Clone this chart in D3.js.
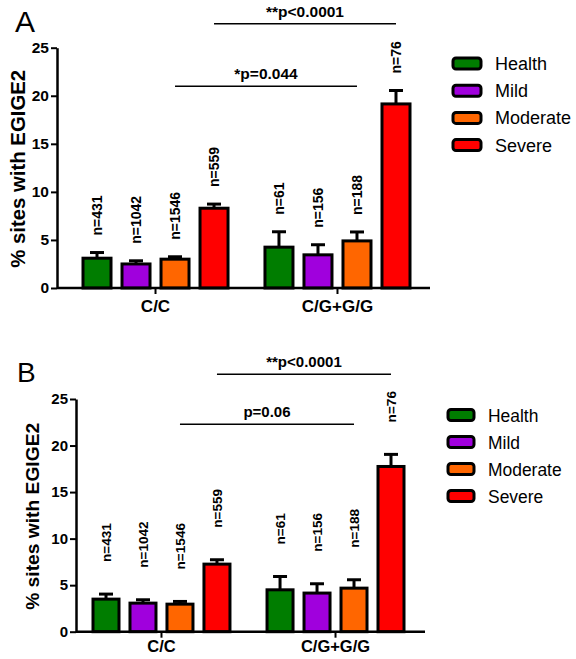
<!DOCTYPE html>
<html>
<head>
<meta charset="utf-8">
<script src="https://cdn.jsdelivr.net/npm/d3@7"></script>
<style>
  body { margin: 0; background: #fff; }
  svg { font-family: "Liberation Sans", Arial, sans-serif; }
</style>
</head>
<body>
<svg id="chart"></svg>
<script>
// genotype groups and disease severity
const categories = ["C/C", "C/G+G/G"];
const severities = ["Health", "Mild", "Moderate", "Severe"];
const colors = ["#007d00", "#a000dd", "#ff6600", "#ff0000"];
const nCounts = [[431, 1042, 1546, 559], [61, 156, 188, 76]];
const yTicks = [0, 5, 10, 15, 20, 25];

// panel A values (% sites) and upper error
const meanA = [[3.1, 2.5, 3.0, 8.3], [4.25, 3.45, 4.9, 19.15]];
const errA = [[0.59, 0.33, 0.25, 0.43], [1.6, 1.05, 0.93, 1.4]];
// panel B
const meanB = [[3.5, 3.07, 2.96, 7.26], [4.5, 4.15, 4.68, 17.75]];
const errB = [[0.54, 0.36, 0.29, 0.47], [1.43, 1.0, 0.9, 1.3]];

// comparisons: [severity, bracket height, label]
const compA = [["Moderate", 21.0, "*p=0.044"], ["Severe", 27.5, "**p<0.0001"]];
const compB = [["Moderate", 22.3, "p=0.06"], ["Severe", 27.65, "**p<0.0001"]];

const svg = d3.select("#chart").attr("width", 576).attr("height", 659);

const panels = [
  { letter: "A", mean: meanA, err: errA, comp: compA,
    axisX: [57, 430], groups: [83, 410], gPad: 0.203, bPad: 0.282,
    y: [288, 47.7], labelGap: 17, fs: 1, legend: { x: 453, y: 63.5, w: 28, tx: 495, step: 27.2 },
    letterPos: [15, 32, 30], titleX: 18, titleLen: 198, catY: 312 },
  { letter: "B", mean: meanB, err: errB, comp: compB,
    axisX: [76, 425], groups: [93, 404], gPad: 0.213, bPad: 0.297,
    y: [631.7, 399], labelGap: 32, fs: 0.97, legend: { x: 448, y: 415, w: 26, tx: 488, step: 27 },
    letterPos: [17, 382, 28], titleX: 32, titleLen: 187, catY: 652 }
];

panels.forEach(p => {
  const g = svg.append("g");

  const x0 = d3.scaleBand().domain(categories).range(p.groups).paddingInner(p.gPad);
  const x1 = d3.scaleBand().domain(severities).range([0, x0.bandwidth()]).paddingInner(p.bPad);
  const y = d3.scaleLinear().domain([0, 25]).range(p.y);

  // bars
  const rows = [];
  categories.forEach((c, ci) => severities.forEach((s, si) => {
    rows.push({ cat: c, sev: s, color: colors[si], v: p.mean[ci][si], e: p.err[ci][si], n: nCounts[ci][si] });
  }));

  const bar = g.selectAll("g.bar").data(rows).join("g").attr("class", "bar")
    .attr("transform", d => `translate(${x0(d.cat) + x1(d.sev)},0)`);

  const bw = x1.bandwidth();

  // error bars (upper only)
  bar.append("line")
    .attr("x1", bw / 2).attr("x2", bw / 2)
    .attr("y1", d => y(d.v)).attr("y2", d => y(d.v + d.e))
    .attr("stroke", "#000").attr("stroke-width", 3);
  bar.append("line")
    .attr("x1", bw / 2 - 7).attr("x2", bw / 2 + 7)
    .attr("y1", d => y(d.v + d.e)).attr("y2", d => y(d.v + d.e))
    .attr("stroke", "#000").attr("stroke-width", 3);

  bar.append("rect")
    .attr("x", 0).attr("width", bw)
    .attr("y", d => y(d.v)).attr("height", d => y(0) - y(d.v))
    .attr("fill", d => d.color).attr("stroke", "#000").attr("stroke-width", 3);

  // n labels, rotated
  bar.append("text")
    .attr("transform", d => `translate(${bw / 2 + 5 * p.fs},${y(d.v + d.e) - p.labelGap}) rotate(-90)`)
    .attr("font-size", 14 * p.fs).attr("font-weight", "bold")
    .text(d => "n=" + d.n);

  // y axis
  const yAxis = g.append("g").attr("transform", `translate(${p.axisX[0]},0)`)
    .call(d3.axisLeft(y).tickValues(yTicks).tickSize(6).tickSizeOuter(0).tickPadding(2));
  yAxis.select(".domain").attr("stroke-width", 2.5);
  yAxis.selectAll(".tick line").attr("stroke-width", 2);
  yAxis.selectAll(".tick text").attr("font-size", 15.5 * p.fs).attr("font-weight", "bold")
    .attr("font-family", "Liberation Sans, Arial, sans-serif").attr("fill", "#000");

  // x axis
  const xAxis = g.append("g").attr("transform", `translate(0,${y(0)})`);
  xAxis.append("line").attr("x1", p.axisX[0]).attr("x2", p.axisX[1])
    .attr("stroke", "#000").attr("stroke-width", 2.5);
  xAxis.selectAll("line.tk").data(categories).join("line").attr("class", "tk")
    .attr("x1", d => x0(d) + x0.bandwidth() / 2).attr("x2", d => x0(d) + x0.bandwidth() / 2)
    .attr("y1", 0).attr("y2", 6).attr("stroke", "#000").attr("stroke-width", 2);
  xAxis.selectAll("text").data(categories).join("text")
    .attr("x", d => x0(d) + x0.bandwidth() / 2).attr("y", p.catY - y(0))
    .attr("text-anchor", "middle").attr("font-size", 17 * p.fs).attr("font-weight", "bold")
    .text(d => d);

  // y title
  g.append("text")
    .attr("transform", `translate(${p.titleX + 7},${(p.y[0] + p.y[1]) / 2 + 1}) rotate(-90)`)
    .attr("text-anchor", "middle").attr("font-size", 19.5 * p.fs).attr("font-weight", "bold")
    .attr("textLength", p.titleLen).attr("lengthAdjust", "spacingAndGlyphs")
    .text("% sites with EGIGE2");

  // panel letter
  g.append("text").attr("x", p.letterPos[0]).attr("y", p.letterPos[1])
    .attr("font-size", p.letterPos[2]).text(p.letter);

  // significance brackets
  p.comp.forEach(([sev, h, label]) => {
    const xa = x0(categories[0]) + x1(sev) + bw / 2;
    const xb = x0(categories[1]) + x1(sev) + bw / 2;
    g.append("line").attr("x1", xa).attr("x2", xb).attr("y1", y(h)).attr("y2", y(h))
      .attr("stroke", "#000").attr("stroke-width", 1.5);
    g.append("text").attr("x", (xa + xb) / 2).attr("y", y(h) - 7)
      .attr("text-anchor", "middle").attr("font-size", 15.5 * p.fs).attr("font-weight", "bold")
      .text(label);
  });

  // legend
  const lg = g.append("g");
  const item = lg.selectAll("g").data(severities).join("g")
    .attr("transform", (d, i) => `translate(${p.legend.x},${p.legend.y + i * p.legend.step})`);
  item.append("rect").attr("x", 0).attr("y", -5.5).attr("width", p.legend.w).attr("height", 11)
    .attr("rx", 3).attr("fill", (d, i) => colors[i]).attr("stroke", "#000").attr("stroke-width", 3);
  item.append("text").attr("x", p.legend.tx - p.legend.x).attr("y", 6.5)
    .attr("font-size", 18 * p.fs).text(d => d);
});
</script>
</body>
</html>
